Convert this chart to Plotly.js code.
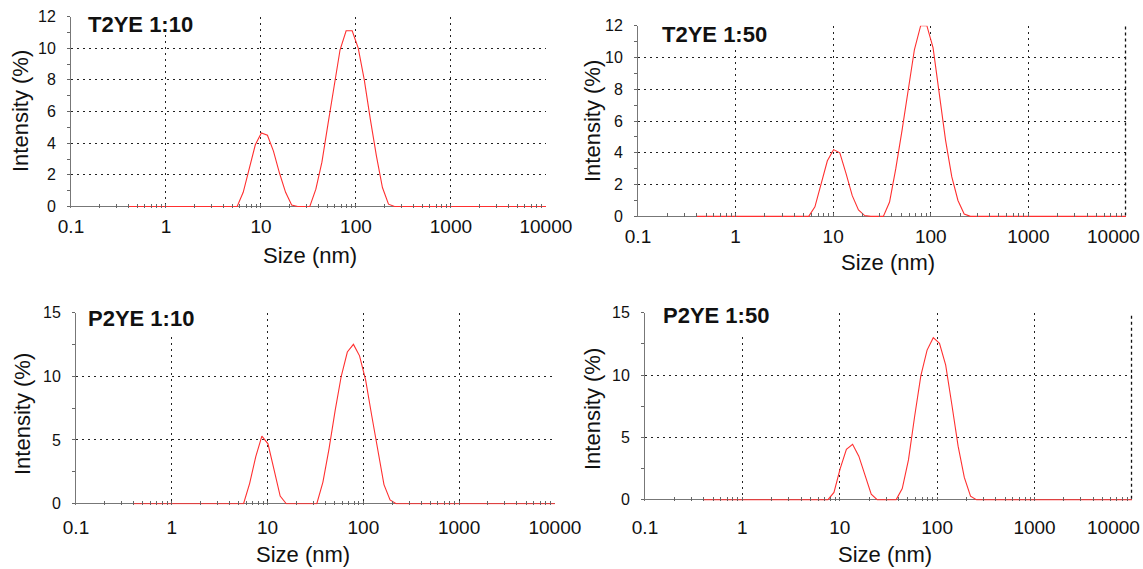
<!DOCTYPE html>
<html><head><meta charset="utf-8">
<script src="https://cdn.plot.ly/plotly-3.0.1.min.js"></script>
<style>html,body{margin:0;padding:0;background:#fff}#chart{width:1143px;height:569px}</style>
</head><body><div id="chart"></div>
<script>
// Size bins (nm) of the DLS size distribution
const sizes = [0.4, 0.4632, 0.5365, 0.6213, 0.7195, 0.8332, 0.9650, 1.117, 1.294, 1.499,
  1.736, 2.010, 2.328, 2.696, 3.122, 3.615, 4.187, 4.849, 5.615, 6.503,
  7.531, 8.721, 10.10, 11.70, 13.54, 15.69, 18.17, 21.04, 24.36, 28.21,
  32.67, 37.84, 43.82, 50.75, 58.77, 68.06, 78.82, 91.28, 105.7, 122.4,
  141.8, 164.2, 190.1, 220.2, 255.0, 295.3, 342.0, 396.1, 458.7, 531.2,
  615.1, 712.4, 825.0, 955.4, 1106, 1281, 1484, 1718, 1990, 2305,
  2669, 3091, 3580, 4145, 4801, 5560, 6439, 7456, 8635, 10000];

// Intensity (%) per bin
const t2ye10 = [0,0,0,0,0,0,0,0,0,0, 0,0,0,0,0,0,0,0,0,0.9,
  2.4,3.9,4.65,4.5,3.5,2.1,0.9,0.1,0,0,
  0,1.1,2.8,5.2,7.5,9.9,11.1,11.1,10.0,8.0,
  5.5,3.2,1.2,0.15,0,0,0,0,0,0, 0,0,0,0,0,0,0,0,0,0, 0,0,0,0,0,0,0,0,0,0];
const t2ye50 = [0,0,0,0,0,0,0,0,0,0, 0,0,0,0,0,0,0,0,0,0.6,
  2.0,3.5,4.2,4.0,2.7,1.3,0.4,0.05,0,0,
  0,0.9,3.0,5.4,8.0,10.5,12.0,12.0,10.6,7.6,
  4.8,2.5,1.0,0.15,0,0,0,0,0,0, 0,0,0,0,0,0,0,0,0,0, 0,0,0,0,0,0,0,0,0,0];
const p2ye10 = [0,0,0,0,0,0,0,0,0,0, 0,0,0,0,0,0,0,0,0,1.6,
  3.7,5.3,4.7,2.65,0.6,0,0,0,0,0,
  0,1.7,4.3,7.3,10.0,11.9,12.5,11.6,9.7,6.9,
  4.2,1.5,0.3,0,0,0,0,0,0,0, 0,0,0,0,0,0,0,0,0,0, 0,0,0,0,0,0,0,0,0,0];
const p2ye50 = [0,0,0,0,0,0,0,0,0,0, 0,0,0,0,0,0,0,0,0,0,
  0,0.6,2.5,4.05,4.45,3.5,1.9,0.45,0,0,
  0,0,0.9,3.2,6.7,9.95,12.0,13.0,12.55,10.8,
  7.6,4.3,1.8,0.3,0,0,0,0,0,0, 0,0,0,0,0,0,0,0,0,0, 0,0,0,0,0,0,0,0,0,0];

const panelTitles = ['T2YE 1:10', 'T2YE 1:50', 'P2YE 1:10', 'P2YE 1:50'];
const xTickVals = [0.1, 1, 10, 100, 1000, 10000];
const xTickText = ['0.1', '1', '10', '100', '1000', '10000'];
const yTicksTop = [0, 2, 4, 6, 8, 10, 12];
const yTicksBottom = [0, 5, 10, 15];
const xTitle = 'Size (nm)';
const yTitle = 'Intensity (%)';

const W = 1143, H = 569;
const FONT = 'Liberation Sans, Arial, Helvetica, sans-serif';
const fx = p => p / W;
const fy = p => 1 - p / H;

// panel geometry in pixels; 'edge' = last x label placed by hand (right-aligned at page edge)
const panels = [
  {x: [71, 546], y: [16.5, 207.5], ymax: 12, yt: yTicksTop, minor: 1, data: t2ye10, so: 5,
   title: [86, 24], box: [76, 216, 3, 35], xt: [310, 255], yl: [20, 111], edge: null},
  {x: [638, 1126], y: [25.7, 217.3], ymax: 12, yt: yTicksTop, minor: 1, data: t2ye50, so: 6,
   title: [660, 34], box: [648, 788, 13, 48], xt: [888, 262], yl: [592, 121], edge: [1141, 236]},
  {x: [76, 555], y: [312.5, 504.5], ymax: 15, yt: yTicksBottom, minor: 2.5, data: p2ye10, so: 9,
   title: [86, 318], box: [80, 212, 300, 333], xt: [303, 554], yl: [22, 414], edge: null},
  {x: [645, 1132], y: [312.7, 500.6], ymax: 15, yt: yTicksBottom, minor: 2.5, data: p2ye50, so: 13,
   title: [661, 315], box: [650, 791, 300, 335], xt: [885, 554], yl: [592, 409], edge: [1141, 527]}
];

const layout = {
  width: W, height: H, margin: {l: 0, r: 0, t: 0, b: 0},
  paper_bgcolor: '#fff', plot_bgcolor: '#fff', showlegend: false,
  font: {family: FONT, color: '#111'},
  annotations: [], shapes: []
};
const traces = [];

panels.forEach((p, i) => {
  const n = i === 0 ? '' : String(i + 1);
  traces.push({
    type: 'scatter', mode: 'lines', x: sizes, y: p.data,
    xaxis: 'x' + n, yaxis: 'y' + n,
    line: {color: '#ff3030', width: 1.1}, hoverinfo: 'skip'
  });
  const ttext = xTickText.slice();
  if (p.edge) ttext[ttext.length - 1] = '';
  layout['xaxis' + n] = {
    type: 'log', domain: [fx(p.x[0]), fx(p.x[1])], anchor: 'y' + n, range: [-1, 4.001],
    tickmode: 'array', tickvals: xTickVals, ticktext: ttext,
    showgrid: true, gridcolor: '#222', griddash: '2px,4px', gridwidth: 1,
    showline: false, zeroline: false,
    ticks: 'inside', ticklen: 4, tickcolor: '#666', tickwidth: 1,
    minor: {ticks: 'inside', ticklen: 4, tickcolor: '#666', dtick: 'D1', showgrid: false},
    tickfont: {family: FONT, size: 19, color: '#111'},
    ticklabeloverflow: 'allow',
    ticklabelstandoff: p.so, fixedrange: true
  };
  layout['yaxis' + n] = {
    domain: [fy(p.y[1]), fy(p.y[0])], anchor: 'x' + n, range: [-0.06, p.ymax],
    tickmode: 'array', tickvals: p.yt, ticktext: p.yt.map(String),
    showgrid: true, gridcolor: '#222', griddash: '2px,4px', gridwidth: 1,
    showline: true, linecolor: '#777', linewidth: 1,
    zeroline: true, zerolinecolor: '#777', zerolinewidth: 1,
    ticks: 'outside', ticklen: 3, tickcolor: '#666',
    minor: {ticks: 'outside', ticklen: 3, tickcolor: '#666', dtick: p.minor, tick0: 0, showgrid: false},
    tickfont: {family: FONT, size: 16, color: '#111'},
    ticklabelstandoff: 8, fixedrange: true
  };
  layout.shapes.push({
    type: 'rect', xref: 'paper', yref: 'paper', layer: 'above',
    x0: fx(p.box[0]), x1: fx(p.box[1]), y0: fy(p.box[3]), y1: fy(p.box[2]),
    fillcolor: '#fff', line: {width: 0}
  });
  if (p.edge) {
    // dotted right border (grid line at the last decade), drawn in the panel's own axes
    layout.shapes.push({
      type: 'line', xref: 'x' + n + ' domain', yref: 'y' + n + ' domain', layer: 'above',
      x0: 0.999, x1: 0.999, y0: 0.01, y1: 1,
      line: {color: '#111', width: 1.3, dash: 'dot'}
    });
    layout.annotations.push({
      xref: 'paper', yref: 'paper', x: fx(p.edge[0]), y: fy(p.edge[1]),
      xanchor: 'right', yanchor: 'middle', showarrow: false, borderpad: 0,
      text: xTickText[xTickText.length - 1],
      font: {family: FONT, size: 19, color: '#111'}
    });
  }
  layout.annotations.push({
    xref: 'paper', yref: 'paper', x: fx(p.title[0]), y: fy(p.title[1]),
    xanchor: 'left', yanchor: 'middle', showarrow: false, text: '<b>' + panelTitles[i] + '</b>',
    font: {family: FONT, size: 22, color: '#111'}
  });
  layout.annotations.push({
    xref: 'paper', yref: 'paper', x: fx(p.xt[0]), y: fy(p.xt[1]),
    xanchor: 'center', yanchor: 'middle', showarrow: false, text: xTitle,
    font: {family: FONT, size: 22, color: '#111'}
  });
  layout.annotations.push({
    xref: 'paper', yref: 'paper', x: fx(p.yl[0]), y: fy(p.yl[1]),
    xanchor: 'center', yanchor: 'middle', showarrow: false, text: yTitle, textangle: -90,
    font: {family: FONT, size: 22, color: '#111'}
  });
});

Plotly.newPlot('chart', traces, layout, {staticPlot: true, displayModeBar: false});
</script>
</body></html>
